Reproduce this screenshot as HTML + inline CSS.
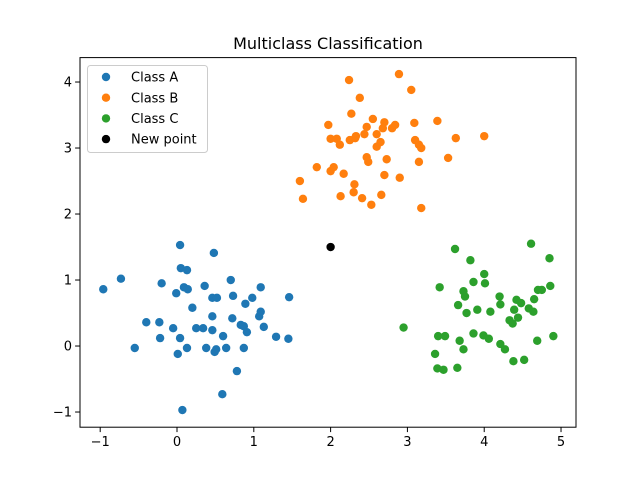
<!DOCTYPE html>
<html><head><meta charset="utf-8"><style>
body{margin:0;background:#fff;}
svg{display:block;font-family:"DejaVu Sans","Liberation Sans",sans-serif;}
</style></head><body>
<svg id="chart" width="640" height="480"></svg>
<script>
const classAx=[-0.96,-0.73,-0.55,-0.40,-0.22,-0.23,-0.20,-0.05,-0.01,0.04,0.05,0.13,0.09,0.13,0.07,0.01,0.04,0.14,0.20,0.25,0.36,0.38,0.46,0.46,0.46,0.48,0.49,0.51,0.52,0.59,0.60,0.64,0.70,0.72,0.73,0.78,0.83,0.87,0.89,0.87,0.91,0.98,1.07,1.09,1.09,1.13,1.29,1.45,1.46,0.34];
const classAy=[0.86,1.02,-0.03,0.36,0.12,0.36,0.95,0.27,0.80,1.53,1.18,1.15,0.89,-0.03,-0.97,-0.12,0.12,0.86,0.58,0.27,0.91,-0.03,0.24,0.73,0.45,1.41,-0.09,-0.05,0.73,-0.73,0.15,-0.03,1.00,0.42,0.76,-0.38,0.32,-0.03,0.64,0.30,0.21,0.73,0.45,0.89,0.52,0.29,0.14,0.11,0.74,0.27];
const classBx=[1.60,1.64,1.82,1.97,2.0,2.0,2.04,2.08,2.13,2.17,2.24,2.27,2.25,2.30,2.31,2.33,2.38,2.41,2.44,2.47,2.47,2.49,2.53,2.55,2.60,2.60,2.65,2.66,2.68,2.70,2.70,2.73,2.80,2.84,2.89,2.90,3.05,3.09,3.10,3.15,3.15,3.18,3.18,3.39,3.53,3.63,4.00,2.32,2.12];
const classBy=[2.50,2.23,2.71,3.35,3.14,2.65,2.71,3.14,2.27,2.61,4.03,3.52,3.12,2.33,2.45,3.18,3.76,2.24,3.21,3.32,2.86,2.79,2.14,3.44,3.21,3.02,3.09,2.29,3.30,3.39,2.59,2.83,3.30,3.35,4.12,2.55,3.88,3.38,3.12,2.79,3.05,3.00,2.09,3.41,2.85,3.15,3.18,3.15,3.05];
const classCx=[2.95,3.62,3.82,4.00,4.01,3.42,3.73,3.75,3.86,3.66,3.77,3.91,4.08,4.20,4.21,4.42,4.48,4.39,4.44,4.33,4.37,4.58,4.64,4.65,4.70,4.75,4.86,4.61,4.85,3.40,3.49,3.68,3.73,3.86,3.99,4.06,4.21,4.27,4.69,4.90,3.36,3.39,3.47,3.65,4.38,4.52];
const classCy=[0.28,1.47,1.30,1.09,0.95,0.89,0.83,0.75,0.97,0.62,0.50,0.55,0.52,0.75,0.63,0.70,0.65,0.55,0.43,0.39,0.34,0.57,0.52,0.71,0.85,0.85,0.91,1.55,1.33,0.15,0.15,0.08,-0.05,0.19,0.16,0.11,0.03,-0.05,0.08,0.15,-0.12,-0.34,-0.36,-0.33,-0.23,-0.21];
const newPointX=[2.0];
const newPointY=[1.5];
const xTicks=[-1,0,1,2,3,4,5];
const yTicks=[-1,0,1,2,3,4];
const legendLabels=["Class A","Class B","Class C","New point"];

const L=80,R=576,T=57.6,B=427.2;
const xMin=-1.263,xMax=5.195,yMin=-1.23,yMax=4.37;
const sx=v=>L+(v-xMin)/(xMax-xMin)*(R-L);
const sy=v=>B-(v-yMin)/(yMax-yMin)*(B-T);
const svg=document.getElementById('chart');
const NS='http://www.w3.org/2000/svg';
function mk(tag,attrs,parent){const e=document.createElementNS(NS,tag);for(const k in attrs)e.setAttribute(k,attrs[k]);(parent||svg).appendChild(e);return e;}

const title=mk('text',{x:328,y:49,'text-anchor':'middle','font-size':'16'});
title.textContent='Multiclass Classification';



const series=[[classAx,classAy,'#1f77b4','class-a'],[classBx,classBy,'#ff7f0e','class-b'],[classCx,classCy,'#2ca02c','class-c'],[newPointX,newPointY,'#000000','new-point']];
series.forEach(s=>{
  const g=mk('g',{});
  
  
  for(let i=0;i<s[0].length;i++){
    const c=mk('circle',{cx:sx(s[0][i]),cy:sy(s[1][i]),r:4.2,fill:s[2]},g);
    
    
  }
});

const frame=mk('rect',{x:L,y:T,width:R-L,height:B-T,fill:'none',stroke:'#000','stroke-width':1});



xTicks.forEach(t=>{
  const x=sx(t);
  const tk=mk('line',{x1:x,x2:x,y1:B,y2:B+4.9,stroke:'#000'});
  
  
  const lb=mk('text',{x:x,y:B+19,'text-anchor':'middle','font-size':'13'});
  lb.textContent=t<0?'\u2212'+Math.abs(t):String(t);
  
  
});
yTicks.forEach(t=>{
  const y=sy(t);
  const tk=mk('line',{x1:L-4.9,x2:L,y1:y,y2:y,stroke:'#000'});
  
  
  const lb=mk('text',{x:L-8,y:y+4.5,'text-anchor':'end','font-size':'13'});
  lb.textContent=t<0?'\u2212'+Math.abs(t):String(t);
  
  
});

const lg=mk('g',{});


mk('rect',{x:87.5,y:65.5,width:120,height:87,rx:3,fill:'#fff','fill-opacity':0.8,stroke:'#ccc'},lg);
legendLabels.forEach((lab,i)=>{
  const y=77+i*20.7;
  const c=mk('circle',{cx:106,cy:y,r:4.2,fill:series[i][2]},lg);
  
  
  const t=mk('text',{x:131,y:y+4.6,'font-size':'13'},lg);
  t.textContent=lab;
  
  
});
</script>
</body></html>
